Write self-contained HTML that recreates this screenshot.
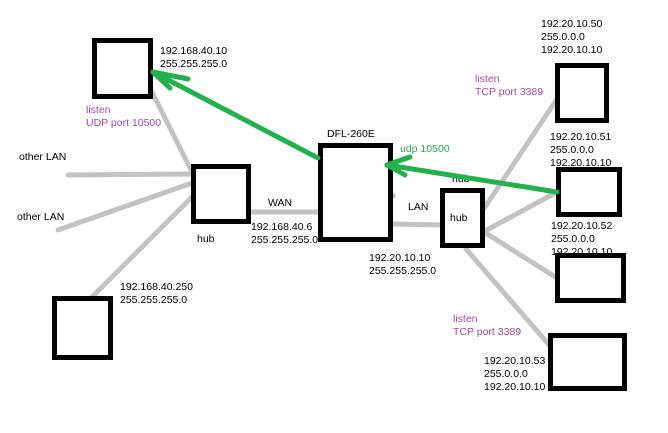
<!DOCTYPE html>
<html><head><meta charset="utf-8"><style>
html,body{margin:0;padding:0;background:#fff;}
svg{display:block;}
text{font-family:"Liberation Sans",sans-serif;font-size:10.5px;fill:#000;}
.p{fill:#a349a4;}
.g{fill:#22b14c;}
</style></head><body>
<svg width="668" height="433" viewBox="0 0 668 433" xmlns="http://www.w3.org/2000/svg">
<text x="452" y="182">hub</text>
<g stroke="#c3c3c3" stroke-width="5" stroke-linecap="round" fill="none">
<line x1="150" y1="88" x2="192" y2="172"/>
<line x1="68" y1="175" x2="192" y2="174"/>
<line x1="58" y1="230" x2="192" y2="183"/>
<line x1="92" y1="297" x2="192" y2="197"/>
<line x1="250" y1="212" x2="323" y2="212"/>
<line x1="392" y1="224" x2="444" y2="225"/>
<line x1="481" y1="213" x2="559" y2="96"/>
<line x1="485" y1="231" x2="557" y2="192"/>
<line x1="484" y1="232" x2="557" y2="278"/>
<line x1="466" y1="249" x2="551" y2="347"/>
<line x1="393" y1="195" x2="393" y2="196"/>
</g>
<g stroke="#000" stroke-width="5" fill="#fff">
<rect x="94.5" y="40.5" width="56" height="56"/>
<rect x="193.5" y="166.5" width="55" height="55"/>
<rect x="320.5" y="145.5" width="70" height="94"/>
<rect x="442.5" y="190.5" width="40" height="55"/>
<rect x="557.5" y="65.5" width="49" height="55"/>
<rect x="558.5" y="169.5" width="61" height="45"/>
<rect x="557.5" y="255.5" width="66" height="45"/>
<rect x="550.5" y="335.5" width="74" height="53"/>
<rect x="54.5" y="298.5" width="56" height="59"/>
</g>
<g stroke="#22b14c" stroke-width="5" stroke-linecap="round" fill="none">
<line x1="318" y1="158" x2="153" y2="72"/>
<line x1="153" y1="72" x2="188" y2="79"/>
<line x1="153" y1="72" x2="170" y2="88"/>
<line x1="557" y1="192" x2="387" y2="165"/>
<line x1="387" y1="165" x2="410" y2="157"/>
<line x1="387" y1="165" x2="405" y2="175"/>
</g>
<text x="160" y="54">192.168.40.10</text>
<text x="160" y="67">255.255.255.0</text>
<text class="p" x="86" y="113">listen</text>
<text class="p" x="86" y="126">UDP port 10500</text>
<text x="19" y="160">other LAN</text>
<text x="17" y="220">other LAN</text>
<text x="197" y="242">hub</text>
<text x="268" y="206">WAN</text>
<text x="251" y="230">192.168.40.6</text>
<text x="251" y="243">255.255.255.0</text>
<text x="120" y="290">192.168.40.250</text>
<text x="120" y="303">255.255.255.0</text>
<text x="327" y="137">DFL-260E</text>
<text class="g" x="400" y="152">udp 10500</text>
<text x="408" y="210">LAN</text>
<text x="450" y="221">hub</text>
<text x="369" y="261">192.20.10.10</text>
<text x="369" y="274">255.255.255.0</text>
<text x="541" y="27">192.20.10.50</text>
<text x="541" y="40">255.0.0.0</text>
<text x="541" y="53">192.20.10.10</text>
<text class="p" x="475" y="82">listen</text>
<text class="p" x="475" y="95">TCP port 3389</text>
<text x="550" y="140">192.20.10.51</text>
<text x="550" y="153">255.0.0.0</text>
<text x="550" y="166">192.20.10.10</text>
<text x="551" y="229">192.20.10.52</text>
<text x="551" y="242">255.0.0.0</text>
<text x="551" y="255">192.20.10.10</text>
<text class="p" x="453" y="322">listen</text>
<text class="p" x="453" y="335">TCP port 3389</text>
<text x="484" y="364">192.20.10.53</text>
<text x="484" y="377">255.0.0.0</text>
<text x="484" y="390">192.20.10.10</text>
</svg>
</body></html>
